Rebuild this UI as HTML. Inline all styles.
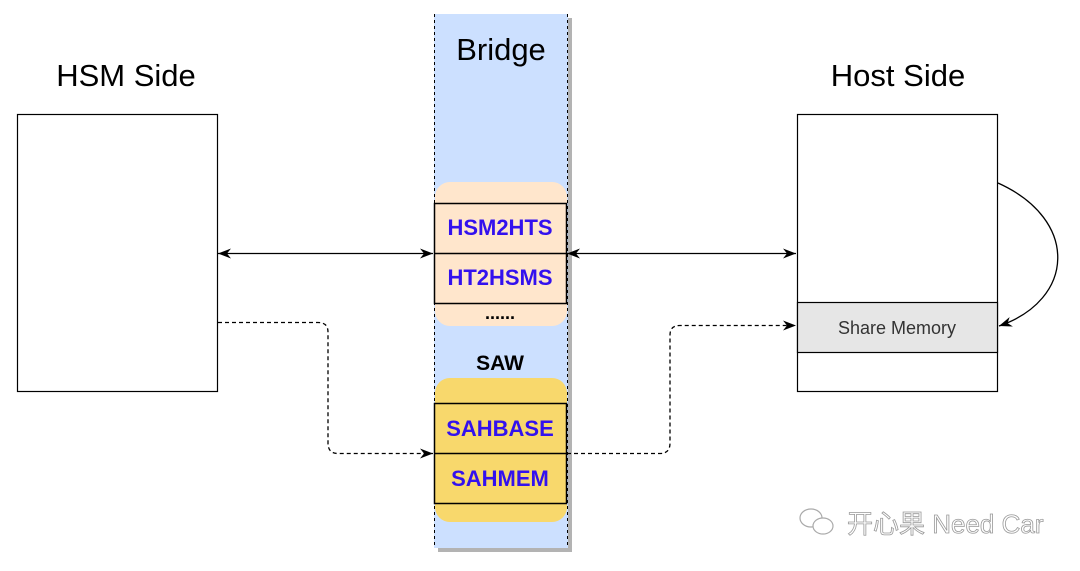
<!DOCTYPE html>
<html><head><meta charset="utf-8"><style>
html,body{margin:0;padding:0;background:#fff;}
svg{display:block;font-family:"Liberation Sans","Noto Sans CJK SC",sans-serif;}
</style></head><body>
<svg width="1080" height="571" viewBox="0 0 1080 571" xmlns="http://www.w3.org/2000/svg">
<defs>
<marker id="a" markerWidth="14" markerHeight="12" refX="13" refY="6" orient="auto-start-reverse" markerUnits="userSpaceOnUse">
<path d="M0,1 L13,6 L0,11 L4,6 Z" fill="#000"/></marker>
</defs>
<rect x="438" y="18" width="134" height="534" fill="#b3b3b3"/>
<rect x="434" y="14" width="134" height="534" fill="#cce0ff"/>
<line x1="434.5" y1="14" x2="434.5" y2="548" stroke="#000" stroke-dasharray="3,3"/>
<line x1="567.5" y1="14" x2="567.5" y2="548" stroke="#000" stroke-dasharray="3,3"/>
<text x="501" y="60" font-size="31" text-anchor="middle">Bridge</text>
<text x="126" y="86" font-size="31" text-anchor="middle">HSM Side</text>
<text x="898" y="86" font-size="31" text-anchor="middle">Host Side</text>

<rect x="435" y="182" width="132" height="144" rx="15" fill="#ffe6cc"/>
<rect x="434.5" y="203.5" width="132" height="100" fill="none" stroke="#000" stroke-width="1.5"/>
<line x1="434" y1="253.5" x2="567" y2="253.5" stroke="#000" stroke-width="1.5"/>
<text x="500" y="235" font-size="22" font-weight="bold" fill="#3311ee" text-anchor="middle">HSM2HTS</text>
<text x="500" y="285" font-size="22" font-weight="bold" fill="#3311ee" text-anchor="middle">HT2HSMS</text>
<text x="500" y="319" font-size="18" font-weight="bold" text-anchor="middle">......</text>
<text x="500" y="370" font-size="21" font-weight="bold" text-anchor="middle">SAW</text>

<rect x="435" y="378" width="132" height="144" rx="15" fill="#f8d86c"/>
<rect x="434.5" y="403.5" width="132" height="100" fill="none" stroke="#000" stroke-width="1.5"/>
<line x1="434" y1="453.5" x2="567" y2="453.5" stroke="#000" stroke-width="1.5"/>
<text x="500" y="436" font-size="22" font-weight="bold" fill="#3311ee" text-anchor="middle">SAHBASE</text>
<text x="500" y="486" font-size="22" font-weight="bold" fill="#3311ee" text-anchor="middle">SAHMEM</text>

<rect x="17.5" y="114.5" width="200" height="277" fill="#fff" stroke="#000" stroke-width="1.2"/>
<rect x="797.5" y="114.5" width="200" height="277" fill="#fff" stroke="#000" stroke-width="1.2"/>
<rect x="797.5" y="302.5" width="200" height="50" fill="#e6e6e6" stroke="#000" stroke-width="1.2"/>
<text x="897" y="334" font-size="18" fill="#333" text-anchor="middle">Share Memory</text>

<line x1="218" y1="253.5" x2="433" y2="253.5" stroke="#000" stroke-width="1.3" marker-start="url(#a)" marker-end="url(#a)"/>
<line x1="567" y1="253.5" x2="796" y2="253.5" stroke="#000" stroke-width="1.3" marker-start="url(#a)" marker-end="url(#a)"/>
<path d="M218,322.5 H318 Q328,322.5 328,332 V443 Q328,453.5 338,453.5 H433" fill="none" stroke="#000" stroke-width="1.3" stroke-dasharray="4,3" marker-end="url(#a)"/>
<path d="M567,453.5 H660 Q670,453.5 670,443 V335 Q670,325.5 680,325.5 H796" fill="none" stroke="#000" stroke-width="1.3" stroke-dasharray="4,3" marker-end="url(#a)"/>
<path d="M998,183 C1080,220 1075,300 999,326" fill="none" stroke="#000" stroke-width="1.3" marker-end="url(#a)"/>

<g fill="none" stroke="#aaa" stroke-width="1.2">
<ellipse cx="811" cy="518" rx="11" ry="9"/>
<ellipse cx="823" cy="526" rx="10" ry="8" fill="#fff"/>
</g>
<text x="847" y="533" font-size="26" fill="#fff" stroke="#999" stroke-width="0.8">开心果 Need Car</text>
</svg>
</body></html>
